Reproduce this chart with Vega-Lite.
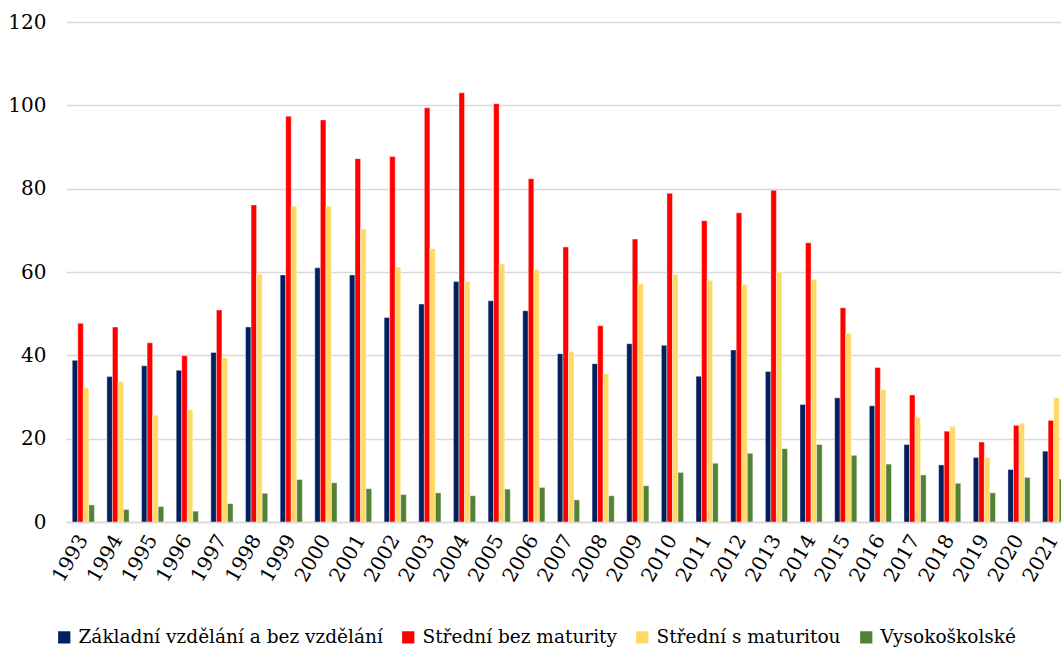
{
  "$schema": "https://vega.github.io/schema/vega-lite/v6.json",
  "width": 995,
  "height": 500,
  "autosize": {"type": "none"},
  "padding": {"left": 66, "top": 22, "right": 0, "bottom": 125},
  "background": "white",
  "config": {
    "font": "DejaVu Serif",
    "view": {"stroke": null}
  },
  "data": {
    "values": [
      {"rok": "1993", "kat": "Základní vzdělání a bez vzdělání", "hodnota": 38.8},
      {"rok": "1993", "kat": "Střední bez maturity", "hodnota": 47.7},
      {"rok": "1993", "kat": "Střední s maturitou", "hodnota": 32.2},
      {"rok": "1993", "kat": "Vysokoškolské", "hodnota": 4.1},
      {"rok": "1994", "kat": "Základní vzdělání a bez vzdělání", "hodnota": 34.9},
      {"rok": "1994", "kat": "Střední bez maturity", "hodnota": 46.8},
      {"rok": "1994", "kat": "Střední s maturitou", "hodnota": 33.7},
      {"rok": "1994", "kat": "Vysokoškolské", "hodnota": 3.0},
      {"rok": "1995", "kat": "Základní vzdělání a bez vzdělání", "hodnota": 37.5},
      {"rok": "1995", "kat": "Střední bez maturity", "hodnota": 43.0},
      {"rok": "1995", "kat": "Střední s maturitou", "hodnota": 25.6},
      {"rok": "1995", "kat": "Vysokoškolské", "hodnota": 3.7},
      {"rok": "1996", "kat": "Základní vzdělání a bez vzdělání", "hodnota": 36.4},
      {"rok": "1996", "kat": "Střední bez maturity", "hodnota": 39.9},
      {"rok": "1996", "kat": "Střední s maturitou", "hodnota": 26.9},
      {"rok": "1996", "kat": "Vysokoškolské", "hodnota": 2.6},
      {"rok": "1997", "kat": "Základní vzdělání a bez vzdělání", "hodnota": 40.7},
      {"rok": "1997", "kat": "Střední bez maturity", "hodnota": 50.9},
      {"rok": "1997", "kat": "Střední s maturitou", "hodnota": 39.4},
      {"rok": "1997", "kat": "Vysokoškolské", "hodnota": 4.4},
      {"rok": "1998", "kat": "Základní vzdělání a bez vzdělání", "hodnota": 46.8},
      {"rok": "1998", "kat": "Střední bez maturity", "hodnota": 76.1},
      {"rok": "1998", "kat": "Střední s maturitou", "hodnota": 59.5},
      {"rok": "1998", "kat": "Vysokoškolské", "hodnota": 6.9},
      {"rok": "1999", "kat": "Základní vzdělání a bez vzdělání", "hodnota": 59.3},
      {"rok": "1999", "kat": "Střední bez maturity", "hodnota": 97.4},
      {"rok": "1999", "kat": "Střední s maturitou", "hodnota": 75.8},
      {"rok": "1999", "kat": "Vysokoškolské", "hodnota": 10.2},
      {"rok": "2000", "kat": "Základní vzdělání a bez vzdělání", "hodnota": 61.0},
      {"rok": "2000", "kat": "Střední bez maturity", "hodnota": 96.5},
      {"rok": "2000", "kat": "Střední s maturitou", "hodnota": 75.8},
      {"rok": "2000", "kat": "Vysokoškolské", "hodnota": 9.4},
      {"rok": "2001", "kat": "Základní vzdělání a bez vzdělání", "hodnota": 59.3},
      {"rok": "2001", "kat": "Střední bez maturity", "hodnota": 87.2},
      {"rok": "2001", "kat": "Střední s maturitou", "hodnota": 70.3},
      {"rok": "2001", "kat": "Vysokoškolské", "hodnota": 8.0},
      {"rok": "2002", "kat": "Základní vzdělání a bez vzdělání", "hodnota": 49.1},
      {"rok": "2002", "kat": "Střední bez maturity", "hodnota": 87.7},
      {"rok": "2002", "kat": "Střední s maturitou", "hodnota": 61.2},
      {"rok": "2002", "kat": "Vysokoškolské", "hodnota": 6.6},
      {"rok": "2003", "kat": "Základní vzdělání a bez vzdělání", "hodnota": 52.3},
      {"rok": "2003", "kat": "Střední bez maturity", "hodnota": 99.4},
      {"rok": "2003", "kat": "Střední s maturitou", "hodnota": 65.6},
      {"rok": "2003", "kat": "Vysokoškolské", "hodnota": 7.0},
      {"rok": "2004", "kat": "Základní vzdělání a bez vzdělání", "hodnota": 57.7},
      {"rok": "2004", "kat": "Střední bez maturity", "hodnota": 103.0},
      {"rok": "2004", "kat": "Střední s maturitou", "hodnota": 57.7},
      {"rok": "2004", "kat": "Vysokoškolské", "hodnota": 6.3},
      {"rok": "2005", "kat": "Základní vzdělání a bez vzdělání", "hodnota": 53.1},
      {"rok": "2005", "kat": "Střední bez maturity", "hodnota": 100.4},
      {"rok": "2005", "kat": "Střední s maturitou", "hodnota": 61.9},
      {"rok": "2005", "kat": "Vysokoškolské", "hodnota": 7.9},
      {"rok": "2006", "kat": "Základní vzdělání a bez vzdělání", "hodnota": 50.7},
      {"rok": "2006", "kat": "Střední bez maturity", "hodnota": 82.4},
      {"rok": "2006", "kat": "Střední s maturitou", "hodnota": 60.6},
      {"rok": "2006", "kat": "Vysokoškolské", "hodnota": 8.3},
      {"rok": "2007", "kat": "Základní vzdělání a bez vzdělání", "hodnota": 40.4},
      {"rok": "2007", "kat": "Střední bez maturity", "hodnota": 66.0},
      {"rok": "2007", "kat": "Střední s maturitou", "hodnota": 40.9},
      {"rok": "2007", "kat": "Vysokoškolské", "hodnota": 5.3},
      {"rok": "2008", "kat": "Základní vzdělání a bez vzdělání", "hodnota": 38.0},
      {"rok": "2008", "kat": "Střední bez maturity", "hodnota": 47.1},
      {"rok": "2008", "kat": "Střední s maturitou", "hodnota": 35.6},
      {"rok": "2008", "kat": "Vysokoškolské", "hodnota": 6.3},
      {"rok": "2009", "kat": "Základní vzdělání a bez vzdělání", "hodnota": 42.8},
      {"rok": "2009", "kat": "Střední bez maturity", "hodnota": 67.9},
      {"rok": "2009", "kat": "Střední s maturitou", "hodnota": 57.2},
      {"rok": "2009", "kat": "Vysokoškolské", "hodnota": 8.7},
      {"rok": "2010", "kat": "Základní vzdělání a bez vzdělání", "hodnota": 42.4},
      {"rok": "2010", "kat": "Střední bez maturity", "hodnota": 78.9},
      {"rok": "2010", "kat": "Střední s maturitou", "hodnota": 59.4},
      {"rok": "2010", "kat": "Vysokoškolské", "hodnota": 11.9},
      {"rok": "2011", "kat": "Základní vzdělání a bez vzdělání", "hodnota": 35.0},
      {"rok": "2011", "kat": "Střední bez maturity", "hodnota": 72.3},
      {"rok": "2011", "kat": "Střední s maturitou", "hodnota": 58.0},
      {"rok": "2011", "kat": "Vysokoškolské", "hodnota": 14.1},
      {"rok": "2012", "kat": "Základní vzdělání a bez vzdělání", "hodnota": 41.3},
      {"rok": "2012", "kat": "Střední bez maturity", "hodnota": 74.2},
      {"rok": "2012", "kat": "Střední s maturitou", "hodnota": 57.0},
      {"rok": "2012", "kat": "Vysokoškolské", "hodnota": 16.5},
      {"rok": "2013", "kat": "Základní vzdělání a bez vzdělání", "hodnota": 36.1},
      {"rok": "2013", "kat": "Střední bez maturity", "hodnota": 79.6},
      {"rok": "2013", "kat": "Střední s maturitou", "hodnota": 60.0},
      {"rok": "2013", "kat": "Vysokoškolské", "hodnota": 17.6},
      {"rok": "2014", "kat": "Základní vzdělání a bez vzdělání", "hodnota": 28.2},
      {"rok": "2014", "kat": "Střední bez maturity", "hodnota": 67.0},
      {"rok": "2014", "kat": "Střední s maturitou", "hodnota": 58.2},
      {"rok": "2014", "kat": "Vysokoškolské", "hodnota": 18.6},
      {"rok": "2015", "kat": "Základní vzdělání a bez vzdělání", "hodnota": 29.8},
      {"rok": "2015", "kat": "Střední bez maturity", "hodnota": 51.4},
      {"rok": "2015", "kat": "Střední s maturitou", "hodnota": 45.3},
      {"rok": "2015", "kat": "Vysokoškolské", "hodnota": 16.0},
      {"rok": "2016", "kat": "Základní vzdělání a bez vzdělání", "hodnota": 27.9},
      {"rok": "2016", "kat": "Střední bez maturity", "hodnota": 37.1},
      {"rok": "2016", "kat": "Střední s maturitou", "hodnota": 31.8},
      {"rok": "2016", "kat": "Vysokoškolské", "hodnota": 13.9},
      {"rok": "2017", "kat": "Základní vzdělání a bez vzdělání", "hodnota": 18.6},
      {"rok": "2017", "kat": "Střední bez maturity", "hodnota": 30.5},
      {"rok": "2017", "kat": "Střední s maturitou", "hodnota": 25.1},
      {"rok": "2017", "kat": "Vysokoškolské", "hodnota": 11.3},
      {"rok": "2018", "kat": "Základní vzdělání a bez vzdělání", "hodnota": 13.7},
      {"rok": "2018", "kat": "Střední bez maturity", "hodnota": 21.8},
      {"rok": "2018", "kat": "Střední s maturitou", "hodnota": 22.9},
      {"rok": "2018", "kat": "Vysokoškolské", "hodnota": 9.3},
      {"rok": "2019", "kat": "Základní vzdělání a bez vzdělání", "hodnota": 15.5},
      {"rok": "2019", "kat": "Střední bez maturity", "hodnota": 19.2},
      {"rok": "2019", "kat": "Střední s maturitou", "hodnota": 15.5},
      {"rok": "2019", "kat": "Vysokoškolské", "hodnota": 7.0},
      {"rok": "2020", "kat": "Základní vzdělání a bez vzdělání", "hodnota": 12.6},
      {"rok": "2020", "kat": "Střední bez maturity", "hodnota": 23.2},
      {"rok": "2020", "kat": "Střední s maturitou", "hodnota": 23.7},
      {"rok": "2020", "kat": "Vysokoškolské", "hodnota": 10.7},
      {"rok": "2021", "kat": "Základní vzdělání a bez vzdělání", "hodnota": 17.0},
      {"rok": "2021", "kat": "Střední bez maturity", "hodnota": 24.4},
      {"rok": "2021", "kat": "Střední s maturitou", "hodnota": 29.8},
      {"rok": "2021", "kat": "Vysokoškolské", "hodnota": 10.3}
    ]
  },
  "mark": {"type": "bar", "clip": true, "stroke": "#ffffff", "strokeWidth": 0.6, "strokeOpacity": 0.7},
  "encoding": {
    "x": {
      "field": "rok",
      "type": "nominal",
      "scale": {"type": "band", "range": [0, 1005], "paddingInner": 0.36, "paddingOuter": 0.18},
      "axis": {
        "title": null,
        "labelFont": "DejaVu Serif",
        "labelColor": "#000000",
        "labelAngle": -60,
        "labelFontSize": 20,
        "labelPadding": 14,
        "ticks": false,
        "domain": true,
        "domainColor": "#D9D9D9",
        "domainWidth": 1.5,
        "grid": false
      }
    },
    "xOffset": {
      "field": "kat",
      "type": "nominal",
      "scale": {"domain": ["Základní vzdělání a bez vzdělání", "Střední bez maturity", "Střední s maturitou", "Vysokoškolské"]}
    },
    "y": {
      "field": "hodnota",
      "type": "quantitative",
      "scale": {"domain": [0, 120], "nice": false},
      "axis": {
        "title": null,
        "labelFont": "DejaVu Serif",
        "labelColor": "#000000",
        "values": [0, 20, 40, 60, 80, 100, 120],
        "labelFontSize": 20,
        "labelPadding": 20,
        "ticks": false,
        "domain": false,
        "grid": true,
        "gridColor": "#D9D9D9",
        "gridWidth": 1.5
      }
    },
    "color": {
      "field": "kat",
      "type": "nominal",
      "scale": {
        "domain": ["Základní vzdělání a bez vzdělání", "Střední bez maturity", "Střední s maturitou", "Vysokoškolské"],
        "range": ["#002060", "#FF0000", "#FFD966", "#548235"]
      },
      "legend": {
        "title": null,
        "labelFont": "DejaVu Serif",
        "labelColor": "#000000",
        "orient": "none",
        "legendX": -11,
        "legendY": 606,
        "direction": "horizontal",
        "symbolType": "square",
        "symbolSize": 150,
        "symbolStrokeWidth": 0,
        "labelFontSize": 18.5,
        "labelOffset": 5,
        "columnPadding": 16,
        "labelLimit": 400
      }
    }
  }
}
